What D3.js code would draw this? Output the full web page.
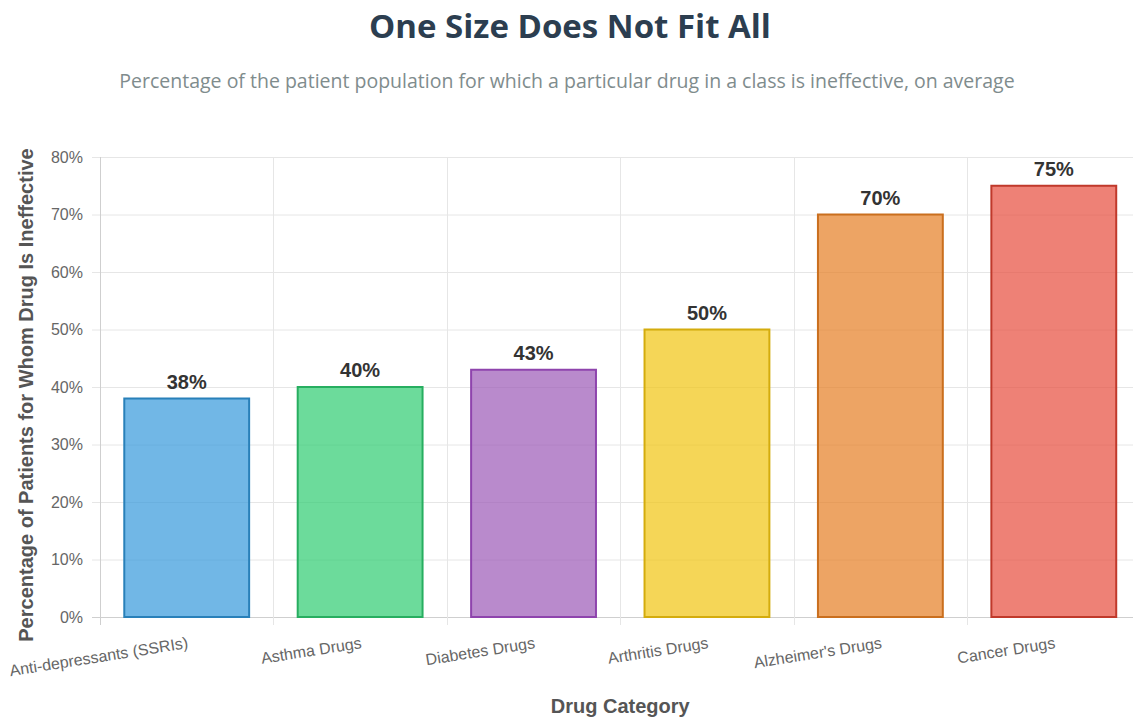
<!DOCTYPE html>
<html>
<head>
<meta charset="utf-8">
<script src="https://cdn.jsdelivr.net/npm/d3@7"></script>
<style>
  html, body { margin: 0; padding: 0; background: #fff; }
  svg { display: block; }
</style>
</head>
<body>
<svg id="chart" width="1133" height="717"></svg>
<script>
const categories = ["Anti-depressants (SSRIs)", "Asthma Drugs", "Diabetes Drugs", "Arthritis Drugs", "Alzheimer's Drugs", "Cancer Drugs"];
const values = [38, 40, 43, 50, 70, 75];
const fillColors = ["#3498db", "#2ecc71", "#9b59b6", "#f1c40f", "#e67e22", "#e74c3c"];
const borderColors = ["#2980b9", "#27ae60", "#8e44ad", "#d4ac0d", "#ca6f1e", "#c0392b"];
const yTicks = [0, 10, 20, 30, 40, 50, 60, 70, 80];

const svg = d3.select("#chart");
const margin = { left: 100, right: 1140.5, top: 157, bottom: 617 };

const x = d3.scaleBand().domain(categories).range([margin.left, margin.right]).paddingInner(0).paddingOuter(0);
const y = d3.scaleLinear().domain([0, 80]).range([margin.bottom, margin.top]);

// Title
svg.append("text").attr("x", 570).attr("y", 38).attr("text-anchor", "middle")
  .attr("font-family", "'Open Sans', sans-serif").attr("font-weight", 700).attr("font-size", 33)
  .attr("fill", "#2c3e50").text("One Size Does Not Fit All");
svg.append("text").attr("x", 567).attr("y", 88).attr("text-anchor", "middle")
  .attr("font-family", "'Open Sans', sans-serif").attr("font-size", 19.5)
  .attr("fill", "#7f8c8d").text("Percentage of the patient population for which a particular drug in a class is ineffective, on average");

// Horizontal grid
const gridH = svg.append("g");
gridH.selectAll("line").data(yTicks).join("line")
  .attr("x1", margin.left - 8).attr("x2", margin.right)
  .attr("y1", d => y(d) + 0.5).attr("y2", d => y(d) + 0.5)
  .attr("stroke", d => d === 0 ? "#cfcfcf" : "#e6e6e6").attr("stroke-width", 1);

// Vertical grid
const vBounds = categories.map(c => x(c)).concat([margin.right]);
svg.append("g").selectAll("line").data(vBounds).join("line")
  .attr("x1", d => Math.round(d) + 0.5).attr("x2", d => Math.round(d) + 0.5)
  .attr("y1", margin.top).attr("y2", margin.bottom + 8)
  .attr("stroke", (d, i) => i === 0 ? "#cfcfcf" : "#e6e6e6").attr("stroke-width", 1);

// Y axis tick labels
const yAxis = d3.axisLeft(y).tickValues(yTicks).tickFormat(d => d + "%").tickSize(0).tickPadding(17);
const yg = svg.append("g").attr("transform", `translate(${margin.left},0)`).call(yAxis);
yg.select(".domain").remove();
yg.selectAll("text").attr("font-family", "'Liberation Sans', Arial, sans-serif").attr("font-size", 16).attr("fill", "#666");

// Bars
const barW = x.bandwidth() * 0.72;
svg.append("g").selectAll("rect").data(categories).join("rect")
  .attr("x", (c) => x(c) + (x.bandwidth() - barW) / 2)
  .attr("y", (c, i) => y(values[i]))
  .attr("width", barW)
  .attr("height", (c, i) => y(0) - y(values[i]))
  .attr("fill", (c, i) => fillColors[i]).attr("fill-opacity", 0.7)
  .attr("stroke", (c, i) => borderColors[i]).attr("stroke-width", 2);

// Value labels
svg.append("g").selectAll("text").data(categories).join("text")
  .attr("x", c => x(c) + x.bandwidth() / 2)
  .attr("y", (c, i) => y(values[i]) - 10)
  .attr("text-anchor", "middle")
  .attr("font-family", "'Liberation Sans', Arial, sans-serif").attr("font-weight", 700).attr("font-size", 20)
  .attr("fill", "#333").text((c, i) => values[i] + "%");

// X axis labels (rotated)
const xAxis = d3.axisBottom(x).tickSize(0).tickPadding(0);
const xg = svg.append("g").attr("transform", `translate(0,${margin.bottom})`).call(xAxis);
xg.select(".domain").remove();
xg.selectAll(".tick text")
  .attr("font-family", "'Liberation Sans', Arial, sans-serif").attr("font-size", 16).attr("fill", "#666")
  .attr("text-anchor", "end").attr("dy", "0")
  .attr("transform", "translate(2,31) rotate(-9)");

// Axis titles
svg.append("text").attr("x", (margin.left + margin.right) / 2).attr("y", 713).attr("text-anchor", "middle")
  .attr("font-family", "'Liberation Sans', Arial, sans-serif").attr("font-weight", 700).attr("font-size", 20)
  .attr("fill", "#555").text("Drug Category");
svg.append("text").attr("transform", `translate(33,${(margin.top + margin.bottom) / 2 + 8}) rotate(-90)`)
  .attr("text-anchor", "middle")
  .attr("font-family", "'Liberation Sans', Arial, sans-serif").attr("font-weight", 700).attr("font-size", 20)
  .attr("fill", "#555").text("Percentage of Patients for Whom Drug Is Ineffective");
</script>
</body>
</html>
